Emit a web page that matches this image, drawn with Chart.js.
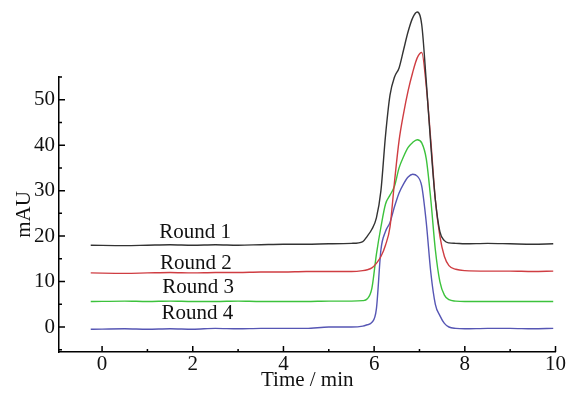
<!DOCTYPE html>
<html>
<head>
<meta charset="UTF-8">
<title>Rounds</title>
<script src="https://cdn.jsdelivr.net/npm/chart.js"></script>
<style>
  html, body { margin: 0; padding: 0; background: #fff; }
  #wrap { width: 566px; height: 393px; }
</style>
</head>
<body>
<div id="wrap"><canvas id="myChart" width="566" height="393"></canvas></div>
<script>
// retention time (min)
const times = [-0.25, 0.5, 1.0, 1.5, 2.0, 2.5, 3.0, 3.5, 4.0, 4.5, 5.0, 5.5, 5.75, 5.85, 5.95, 6.05, 6.15, 6.25, 6.35, 6.45,
  6.55, 6.65, 6.75, 6.85, 6.95, 7.05, 7.15, 7.25, 7.35, 7.45, 7.55, 7.65, 7.8, 8.0, 8.5, 9.0, 9.5, 9.95];

// mAU per round
const round1 = [18.0, 17.9, 18.0, 18.1, 18.0, 18.1, 18.0, 18.1, 18.2, 18.2, 18.3, 18.4, 18.8, 20.0, 21.5, 24.0, 30.0, 42.0, 51.0, 55.0,
  57.0, 61.0, 65.0, 68.0, 69.3, 66.5, 54.0, 40.0, 28.0, 21.0, 19.0, 18.5, 18.4, 18.3, 18.4, 18.3, 18.2, 18.3];
const round2 = [11.9, 11.8, 11.9, 12.0, 11.9, 12.0, 12.0, 12.1, 12.1, 12.2, 12.2, 12.2, 12.4, 12.6, 13.0, 14.0, 15.5, 18.0, 22.0, 32.0,
  41.0, 47.0, 52.0, 56.0, 59.2, 60.4, 53.0, 41.0, 28.0, 20.0, 15.5, 13.5, 12.7, 12.4, 12.3, 12.3, 12.2, 12.3];
const round3 = [5.6, 5.7, 5.6, 5.7, 5.6, 5.6, 5.7, 5.6, 5.6, 5.6, 5.7, 5.7, 5.8, 6.2, 8.5, 16.0, 22.0, 27.0, 29.0, 31.0,
  35.0, 37.5, 39.5, 40.6, 41.2, 40.5, 37.0, 28.0, 17.0, 10.0, 7.0, 6.0, 5.7, 5.6, 5.6, 5.6, 5.6, 5.6];
const round4 = [-0.5, -0.4, -0.5, -0.4, -0.5, -0.3, -0.4, -0.3, -0.3, -0.3, 0.0, 0.0, 0.2, 0.5, 1.0, 4.0, 17.0, 21.0, 23.0, 26.5,
  29.5, 31.5, 33.0, 33.6, 33.2, 31.0, 23.0, 12.0, 5.0, 2.5, 0.8, 0.0, -0.3, -0.4, -0.3, -0.3, -0.4, -0.3];

const seriesNames = ['Round 1', 'Round 2', 'Round 3', 'Round 4'];
const seriesColors = ['#333333', '#cf3d42', '#3cc23c', '#5656b4'];
// where each name sits (time, mAU)
const labelX = [2.05, 2.07, 2.12, 2.1];
const labelY = [20.8, 13.9, 8.6, 2.9];

const xMajor = [0, 2, 4, 6, 8, 10];
const xMinor = [1, 3, 5, 7, 9];
const yMajor = [0, 10, 20, 30, 40, 50];
const yMinor = [-5, 5, 15, 25, 35, 45, 55];

const serif = "'Liberation Serif', 'DejaVu Serif', serif";

// inward tick marks + series names
const decorations = {
  id: 'decorations',
  afterDatasetsDraw(chart) {
    const ctx = chart.ctx;
    const xs = chart.scales.x, ys = chart.scales.y;
    const area = chart.chartArea;
    ctx.save();
    ctx.strokeStyle = '#000';
    ctx.lineWidth = 1.5;
    ctx.beginPath();
    xMajor.forEach(v => { const p = xs.getPixelForValue(v); ctx.moveTo(p, area.bottom); ctx.lineTo(p, area.bottom - 6); });
    xMinor.forEach(v => { const p = xs.getPixelForValue(v); ctx.moveTo(p, area.bottom); ctx.lineTo(p, area.bottom - 3); });
    yMajor.forEach(v => { const p = ys.getPixelForValue(v); ctx.moveTo(area.left, p); ctx.lineTo(area.left + 6, p); });
    yMinor.forEach(v => { const p = ys.getPixelForValue(v); ctx.moveTo(area.left, p); ctx.lineTo(area.left + 3, p); });
    ctx.stroke();

    ctx.fillStyle = '#111';
    ctx.font = '21px ' + serif;
    ctx.textAlign = 'center';
    ctx.textBaseline = 'middle';
    seriesNames.forEach((n, i) => {
      ctx.fillText(n, xs.getPixelForValue(labelX[i]), ys.getPixelForValue(labelY[i]));
    });
    ctx.restore();
  }
};

const ctx = document.getElementById('myChart').getContext('2d');
const myChart = new Chart(ctx, {
  type: 'line',
  data: {
    datasets: [round1, round2, round3, round4].map((vals, i) => ({
      label: seriesNames[i],
      data: vals.map((v, k) => ({ x: times[k], y: v })),
      borderColor: seriesColors[i],
      borderWidth: 1.4,
      pointRadius: 0,
      fill: false,
      cubicInterpolationMode: 'monotone',
      clip: false
    }))
  },
  options: {
    responsive: false,
    animation: false,
    layout: { padding: { left: 0, top: 77, right: 9, bottom: 0 } },
    plugins: { legend: { display: false }, tooltip: { enabled: false } },
    scales: {
      x: {
        type: 'linear',
        min: -0.95,
        max: 10,
        afterFit: s => { s.height = 41; },
        afterBuildTicks: s => { s.ticks = xMajor.map(v => ({ value: v })); },
        grid: { display: false, drawTicks: false },
        border: { display: true, color: '#000', width: 1.5 },
        ticks: { color: '#111', padding: 0, font: { family: serif, size: 21 }, maxRotation: 0 },
        title: { display: true, text: 'Time / min', color: '#111', padding: 0, font: { family: serif, size: 21 } }
      },
      y: {
        min: -5.5,
        max: 55,
        afterFit: s => { s.width = 59; },
        afterBuildTicks: s => { s.ticks = yMajor.map(v => ({ value: v })); },
        grid: { display: false, drawTicks: false },
        border: { display: true, color: '#000', width: 1.5 },
        ticks: { color: '#111', padding: 4, font: { family: serif, size: 21 } },
        title: { display: true, text: 'mAU', color: '#111', padding: { top: 12, bottom: 0 }, font: { family: serif, size: 21 } }
      }
    }
  },
  plugins: [decorations]
});
</script>
</body>
</html>
